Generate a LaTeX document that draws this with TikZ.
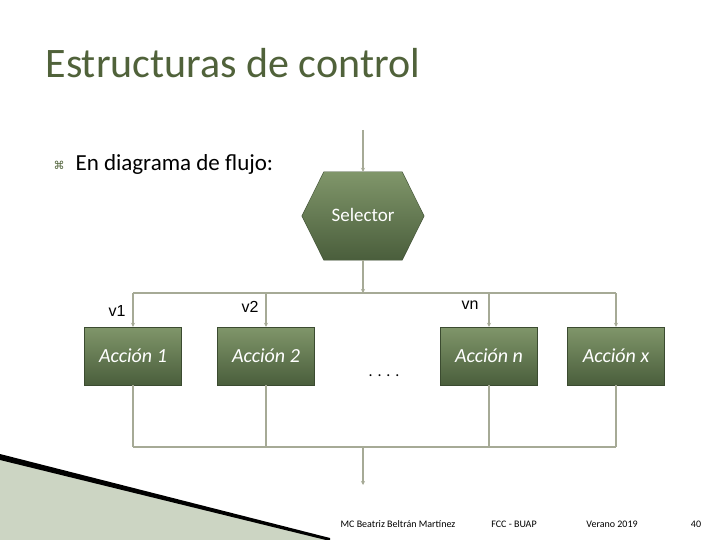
\documentclass[tikz,border=0pt]{standalone}
\usepackage{fontspec}
\setmainfont{Carlito}
\newfontfamily\arialfont{Liberation Sans}
\newfontfamily\symfont{DejaVu Sans}
\usetikzlibrary{shapes.geometric,positioning,arrows.meta}
\definecolor{boxtop}{RGB}{128,150,106}
\definecolor{boxbot}{RGB}{74,94,60}
\definecolor{wire}{RGB}{166,170,150}
\definecolor{titlegreen}{RGB}{80,98,58}
\tikzset{
  accion/.style={draw=boxbot!80!black, top color=boxtop, bottom color=boxbot,
    minimum width=97pt, minimum height=58pt, text=white, font=\itshape\fontsize{20}{20}\selectfont},
  wireline/.style={draw=wire, line width=1.2pt},
  wirearrow/.style={wireline, -{Stealth[length=4pt,width=4pt]}},
  vlabel/.style={font=\arialfont\fontsize{16}{16}\selectfont},
  footer/.style={font=\fontsize{10}{10}\selectfont, anchor=base}
}
\begin{document}
\begin{tikzpicture}[x=1pt,y=-1pt]
\useasboundingbox (0,0) rectangle (720,540);
% title and bullet
\node[anchor=base west, text=titlegreen, font=\fontsize{42}{42}\selectfont] (title) at (42,78) {Estructuras de control};
\node[anchor=base west, font=\symfont\fontsize{11}{11}\selectfont, text=titlegreen] (bullet) at (50,170) {⌘};
\node[anchor=base west, font=\fontsize{23}{23}\selectfont] (intro) at (72,171) {En diagrama de flujo:};
% decoration bottom left
\fill[boxtop!40] (0,456) -- (330,540) -- (0,540) -- cycle;
\fill[black] (0,454) -- (330,538) -- (330,541) -- (0,460) -- cycle;
% selector
\node[minimum width=122pt, minimum height=88pt, inner sep=0pt] (sel) at (363,216) {};
\shade[top color=boxtop, bottom color=boxbot, draw=boxbot!80!black]
  (sel.west) -- ([xshift=22pt]sel.north west) -- ([xshift=-22pt]sel.north east)
  -- (sel.east) -- ([xshift=-22pt]sel.south east) -- ([xshift=22pt]sel.south west) -- cycle;
\node[text=white, font=\fontsize{19}{19}\selectfont] (seltext) at (363,215) {Selector};
\coordinate (in) at (363,130);
\draw[wirearrow] (in) -- (sel.north);
% actions
\node[accion] (a1) at (133,356) {Acción 1};
\node[accion] (a2) at (266,356) {Acción 2};
\node[accion] (an) at (489,356) {Acción n};
\node[accion] (ax) at (616,356) {Acción x};
\node (dots) at (384,376) {\fontsize{16}{16}\selectfont . . . .};
% bus
\coordinate (bus) at (363,293);
\draw[wirearrow] (sel.south) -- (bus);
\draw[wireline] (a1.north |- bus) -- (ax.north |- bus);
\foreach \a in {a1,a2,an,ax}
  \draw[wirearrow] (\a.north |- bus) -- (\a.north);
\node[vlabel] (v1) at (117,311) {v1};
\node[vlabel] (v2) at (250,307) {v2};
\node[vlabel] (vn) at (470,305) {vn};
% join
\coordinate (join) at (363,447);
\coordinate (out) at (363,485);
\foreach \a in {a1,a2,an,ax}
  \draw[wireline] (\a.south) -- (\a.south |- join);
\draw[wireline] (a1.south |- join) -- (ax.south |- join);
\draw[wirearrow] (join) -- (out);
% footer
\node[footer] (f1) at (398,527) {MC Beatriz Beltrán Martínez};
\node[footer] (f2) at (514,527) {FCC - BUAP};
\node[footer] (f3) at (612,527) {Verano 2019};
\node[footer] (f4) at (696,527) {40};
\end{tikzpicture}
\end{document}
